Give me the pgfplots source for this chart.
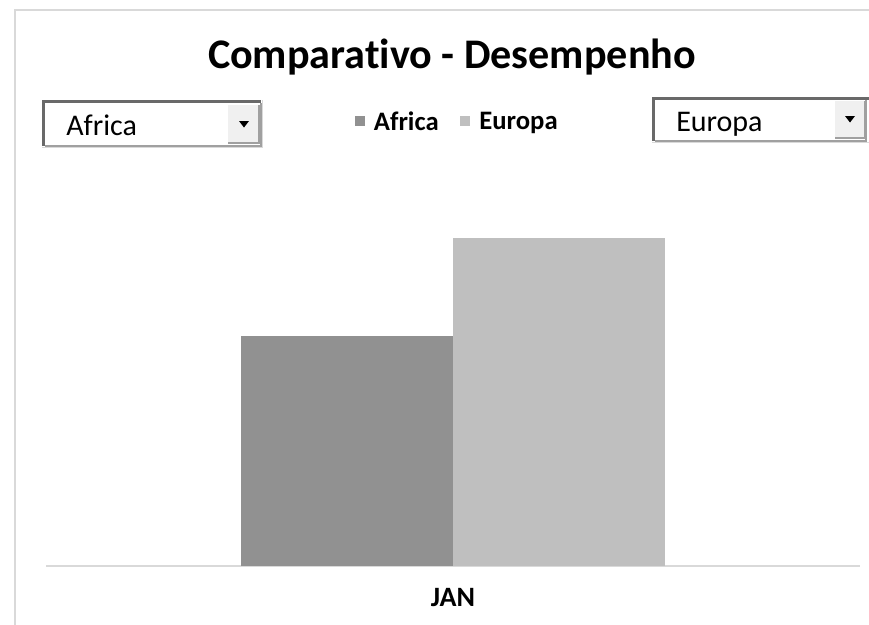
\documentclass[border=0pt]{standalone}
\usepackage{fontspec}
\setmainfont{Carlito}[Ligatures={TeX,NoCommon}]
\usepackage{pgfplots}
\pgfplotsset{compat=1.18}
\definecolor{afr}{HTML}{919191}
\definecolor{eur}{HTML}{BFBFBF}
\definecolor{framec}{HTML}{D9D9D9}
\definecolor{btn}{HTML}{F0F0F0}
\definecolor{dk}{HTML}{696969}
\definecolor{md}{HTML}{A0A0A0}
\begin{document}
\begin{tikzpicture}
\begin{scope}[x=0.75pt,y=-0.75pt]
\path[use as bounding box] (0,0) rectangle (869,625);
\draw[framec, line width=1.2pt] (15,640) -- (15,10) -- (880,10);
\node[anchor=base, inner sep=0, font=\bfseries\fontsize{31.6}{34}\selectfont] at (452,68) {Comparativo - Desempenho};
% left dropdown
\fill[white] (42,100) rectangle (262,147);
\draw[framec, line width=0.75pt] (42,147) -- (262,147) -- (262,100);
\draw[dk, line width=2.4pt] (43.5,146) -- (43.5,101.5) -- (261,101.5);
\draw[md, line width=1pt] (45,146) -- (261,146) -- (261,103);
\fill[btn] (228,105) rectangle (259,144);
\draw[md, line width=1.5pt] (228,143) -- (259,143) -- (259,105);
\fill[black] (239,121) -- (249,121) -- (244,127.5) -- cycle;
\node[anchor=base west, inner sep=0, font=\fontsize{22.5}{24}\selectfont] at (66,135) {Africa};
% right dropdown
\fill[white] (652,97) rectangle (870,142);
\draw[framec, line width=0.75pt] (652,142) -- (870,142);
\draw[dk, line width=2.4pt] (653.5,141) -- (653.5,98.5) -- (870,98.5);
\draw[md, line width=1pt] (655,141) -- (866,141) -- (866,100);
\fill[btn] (835,101) rectangle (865,139);
\draw[md, line width=1.5pt] (835,138) -- (865,138) -- (865,101);
\fill[black] (845,116) -- (855,116) -- (850,122.5) -- cycle;
\node[anchor=base west, inner sep=0, font=\fontsize{22.5}{24}\selectfont] at (676,131) {Europa};
\end{scope}
\begin{axis}[
  at={(34.5pt,-424.5pt)}, anchor=south west,
  scale only axis, width=610.5pt, height=304.5pt,
  xmin=-1, xmax=1, ymin=0, ymax=406,
  axis x line=bottom, axis y line=none,
  x axis line style={draw=framec, line width=1.2pt, -},
  xtick={0}, xticklabels={JAN}, ytick=\empty,
  major tick length=0pt,
  xticklabel style={anchor=base, yshift=-30pt, font=\bfseries\fontsize{21}{23}\selectfont},
  ybar=0pt, bar width=159pt,
  legend style={at={(0.5055,1.094)}, anchor=center, draw=none, fill=none,
    legend columns=-1, font=\bfseries\fontsize{20}{22}\selectfont,
    /tikz/every even column/.append style={column sep=14pt}},
  legend image code/.code={\fill[#1] (0pt,-3pt) rectangle (7.5pt,4.5pt); \path (12.5pt,0pt);},
]
\addplot[fill=afr, draw=none] coordinates {(0,230)};
\addplot[fill=eur, draw=none] coordinates {(0,328)};
\legend{Africa, Europa}
\end{axis}
\end{tikzpicture}
\end{document}
